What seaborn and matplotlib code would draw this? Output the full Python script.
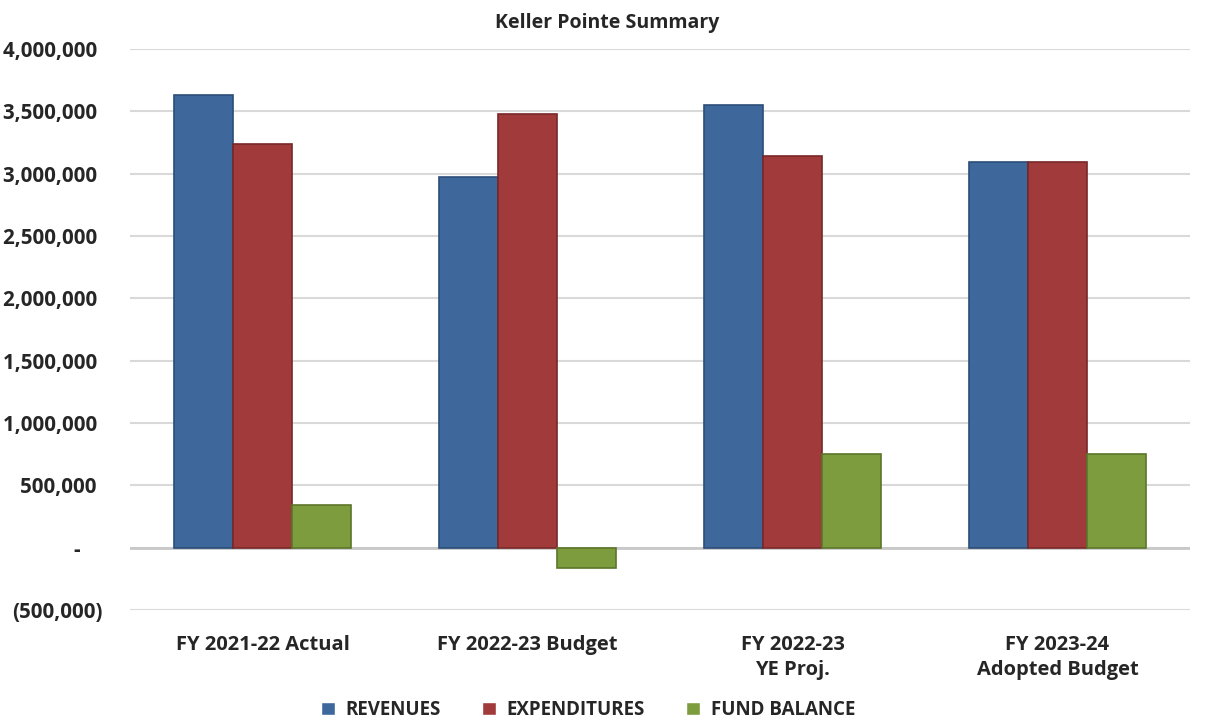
import pandas as pd
import seaborn as sns
import matplotlib.pyplot as plt
from matplotlib.ticker import FuncFormatter

# Données
categories = ["FY 2021-22 Actual", "FY 2022-23 Budget", "FY 2022-23\nYE Proj.", "FY 2023-24\nAdopted Budget"]
series = ["REVENUES", "EXPENDITURES", "FUND BALANCE"]
revenues = [3630000, 2970000, 3550000, 3090000]
expenditures = [3240000, 3480000, 3140000, 3090000]
fund_balance = [340000, -160000, 750000, 750000]
colors = ["#3E689B", "#A13A3A", "#7D9C3E"]
edge_colors = ["#2B4D78", "#792828", "#5C7629"]

df = pd.DataFrame({
    "category": categories * 3,
    "series": [s for s in series for _ in categories],
    "value": revenues + expenditures + fund_balance,
})

sns.set_style("white")
plt.rcParams["font.family"] = ["Open Sans", "DejaVu Sans"]

fig = plt.figure(figsize=(12.08, 7.23), dpi=100)
ax = fig.add_axes([130 / 1208, 1 - 610 / 723, 1060 / 1208, 561 / 723])

sns.barplot(data=df, x="category", y="value", hue="series", palette=colors,
            saturation=1, width=0.67, gap=0, ax=ax, zorder=3)

# bordures pour l'effet relief
for cont, ec in zip(ax.containers, edge_colors):
    for bar in cont:
        bar.set_edgecolor(ec)
        bar.set_linewidth(1.2)

ax.set_ylim(-500000, 4000000)
ax.set_yticks(range(-500000, 4000001, 500000))


def fmt(v, pos):
    if v == 0:
        return "-    "
    if v < 0:
        return f"({abs(int(v)):,})"
    return f"{int(v):,} "


ax.yaxis.set_major_formatter(FuncFormatter(fmt))
ax.grid(axis="y", color="#D9D9D9", linewidth=1.5, zorder=0)
ax.axhline(0, color="#C8C8C8", linewidth=2, zorder=2)
sns.despine(ax=ax, left=True, bottom=True)
ax.tick_params(axis="both", length=0)
ax.tick_params(axis="x", labelsize=14.5, pad=18)
ax.tick_params(axis="y", labelsize=14.8, pad=20)
for lbl in ax.get_xticklabels():
    lbl.set_fontweight("bold")
    lbl.set_linespacing(1.35)
for lbl in ax.get_yticklabels():
    lbl.set_fontweight("bold")
ax.set_xlabel("")
ax.set_ylabel("")
ax.set_xlim(-0.5, 3.5)

fig.text(0.503, 0.968, "Keller Pointe Summary", ha="center", va="center",
         fontsize=14, fontweight="bold")

handles, labels = ax.get_legend_handles_labels()
ax.legend_.remove()
fig.legend(handles, labels, loc="center", bbox_to_anchor=(0.487, 0.018), ncol=3,
           frameon=False, handlelength=0.7, handleheight=0.7, handletextpad=0.6,
           columnspacing=2.2, prop={"weight": "bold", "size": 13.5})

plt.savefig("out.png", dpi=100)
